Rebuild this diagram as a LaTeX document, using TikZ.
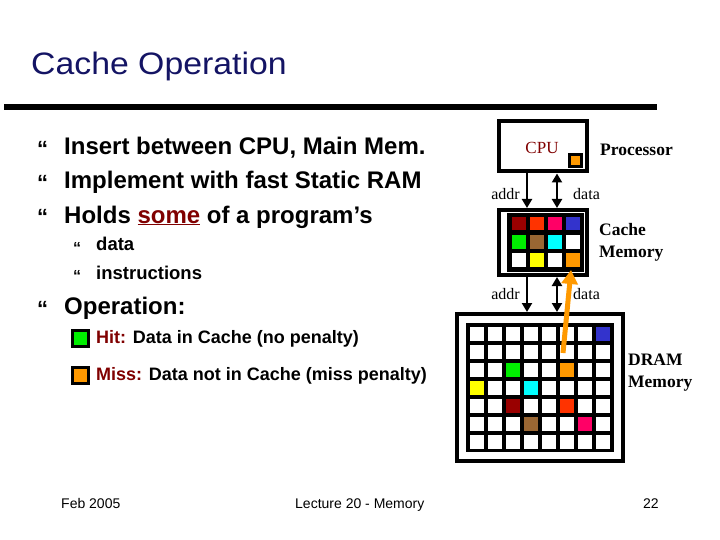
\documentclass[tikz,border=0pt]{standalone}
\usepackage{fontspec}
\setmainfont{Liberation Sans}
\newfontfamily\serifa{Liberation Serif}
\usetikzlibrary{arrows.meta}
\definecolor{titlecol}{HTML}{141464}
\definecolor{redtxt}{HTML}{800000}
\definecolor{cdred}{HTML}{990000}
\definecolor{corred}{HTML}{FF3300}
\definecolor{cpink}{HTML}{FF0066}
\definecolor{cblue}{HTML}{3333CC}
\definecolor{cgreen}{HTML}{00EE00}
\definecolor{cbrown}{HTML}{996633}
\definecolor{ccyan}{HTML}{00FFFF}
\definecolor{cyellow}{HTML}{FFFF00}
\definecolor{corange}{HTML}{FF9900}
\tikzset{
  box/.style={draw=black, line width=4pt, fill=white, inner sep=0pt},
  cell/.style={inner sep=0pt, minimum size=13.5pt, fill=white},
  bus/.style={line width=2.8pt, -{Triangle[width=10pt,length=9pt]}},
  bibus/.style={line width=2.8pt, {Triangle[width=10pt,length=9pt]}-{Triangle[width=10pt,length=9pt]}},
  lbl/.style={font=\serifa\fontsize{16}{18}\selectfont, inner sep=0pt},
  blbl/.style={font=\serifa\bfseries\fontsize{17.5}{22}\selectfont, inner sep=0pt, align=left, anchor=west},
  bul/.style={font=\bfseries\fontsize{24}{26}\selectfont, anchor=base west, inner sep=0pt},
  subbul/.style={font=\bfseries\fontsize{18.5}{20}\selectfont, anchor=base west, inner sep=0pt},
  bmark/.style={font=\bfseries\fontsize{22}{22}\selectfont, anchor=base west, inner sep=0pt},
  smark/.style={font=\bfseries\fontsize{16}{16}\selectfont, anchor=base west, inner sep=0pt},
  foot/.style={font=\fontsize{14}{16}\selectfont, anchor=base west, inner sep=0pt},
  legend/.style={draw=black, line width=3pt, minimum size=16pt, inner sep=0pt},
  legtxt/.style={font=\bfseries\fontsize{18}{20}\selectfont, anchor=west, inner sep=0pt}
}
\begin{document}
\begin{tikzpicture}[x=1pt,y=-1pt]
\useasboundingbox (0,0) rectangle (720,540);
% title
\node[anchor=base west, inner sep=0pt, text=titlecol, font=\fontsize{31}{34}\selectfont] (title) at (31,75) {\scalebox{1.09}[1]{Cache Operation}};
\fill[black] (4,104) rectangle (657,110);
% bullets
\node[bmark] (m1) at (37,157) {“};
\node[bul] (b1) at (64,155) {Insert between CPU, Main Mem.};
\node[bmark] (m2) at (37,191) {“};
\node[bul] (b2) at (64,189) {Implement with fast Static RAM};
\node[bmark] (m3) at (37,225) {“};
\node[bul] (b3) at (64,223) {Holds \textcolor{redtxt}{\underline{some}} of a program’s};
\node[smark] (m4) at (73,253) {“};
\node[subbul] (s1) at (96,251) {data};
\node[smark] (m5) at (73,281) {“};
\node[subbul] (s2) at (96,279) {instructions};
\node[bmark] (m6) at (37,316) {“};
\node[bul] (b4) at (64,314) {Operation:};
% legend
\node[legend, fill=cgreen] (hitsq) at (80,338.5) {};
\node[legtxt] (hit) at (96,339) {\textcolor{redtxt}{Hit:} Data in Cache (no penalty)};
\node[legend, fill=corange] (misssq) at (80,375) {};
\node[legtxt] (miss) at (96,375.5) {\textcolor{redtxt}{Miss:} Data not in Cache (miss penalty)};
% CPU
\node[box, minimum width=88pt, minimum height=50pt] (cpu) at (542.5,146.5) {};
\node[lbl, text=redtxt, font=\serifa\fontsize{17}{18}\selectfont] (cputxt) at (542,148) {CPU};
\node[draw=black, line width=2.5pt, fill=corange, minimum size=12pt, inner sep=0pt] (reg) at (575.5,160.5) {};
\node[blbl] (proc) at (600,150) {Processor};
% Cache
\node[box, minimum width=88pt, minimum height=65pt] (cache) at (542.5,242.5) {};
\fill[black] (507,213) rectangle (584,271.5);
\foreach \c/\r/\col in {0/0/cdred,1/0/corred,2/0/cpink,3/0/cblue,0/1/cgreen,1/1/cbrown,2/1/ccyan,3/1/white,0/2/white,1/2/cyellow,2/2/white,3/2/corange}{
  \node[cell, fill=\col] (c-\c-\r) at (518.75+18*\c,223.75+18*\r) {};
}
\node[blbl] (cachetxt) at (599,242.5) {Cache\\Memory};
% DRAM
\node[box, minimum width=166pt, minimum height=147pt] (dram) at (540,387.5) {};
\fill[black] (466,323) rectangle (614,452);
\foreach \c in {0,...,7}{
  \foreach \r in {0,...,6}{
    \node[cell] (d-\c-\r) at (476.75+18*\c,333.75+18*\r) {};
  }
}
\foreach \c/\r/\col in {7/0/cblue,2/2/cgreen,5/2/corange,0/3/cyellow,3/3/ccyan,2/4/cdred,5/4/corred,3/5/cbrown,6/5/cpink}{
  \node[cell, fill=\col] at (d-\c-\r) {};
}
\node[blbl] (dramtxt) at (628,373) {DRAM\\Memory};
% buses
\coordinate (ax) at (527,0);
\coordinate (dx) at (557,0);
\draw[bus] (cpu.south -| ax) -- (cache.north -| ax);
\draw[bibus] (cpu.south -| dx) -- (cache.north -| dx);
\draw[bus] (cache.south -| ax) -- (dram.north -| ax);
\draw[bibus] (cache.south -| dx) -- (dram.north -| dx);
\node[lbl, anchor=east] (a1) at (520,194) {addr};
\node[lbl, anchor=west] (dt1) at (573,194) {data};
\node[lbl, anchor=east] (a2) at (520,294) {addr};
\node[lbl, anchor=west] (dt2) at (573,294) {data};
% miss arrow
\coordinate (tail) at (563,353);
\coordinate (tip) at (571,270);
\draw[corange, line width=5pt, -{Triangle[width=16pt,length=14pt]}] (tail) -- (tip);
% footer
\node[foot] (f1) at (61,508) {Feb 2005};
\node[foot] (f2) at (295,508) {Lecture 20 - Memory};
\node[foot] (f3) at (643,508) {22};
\end{tikzpicture}
\end{document}
